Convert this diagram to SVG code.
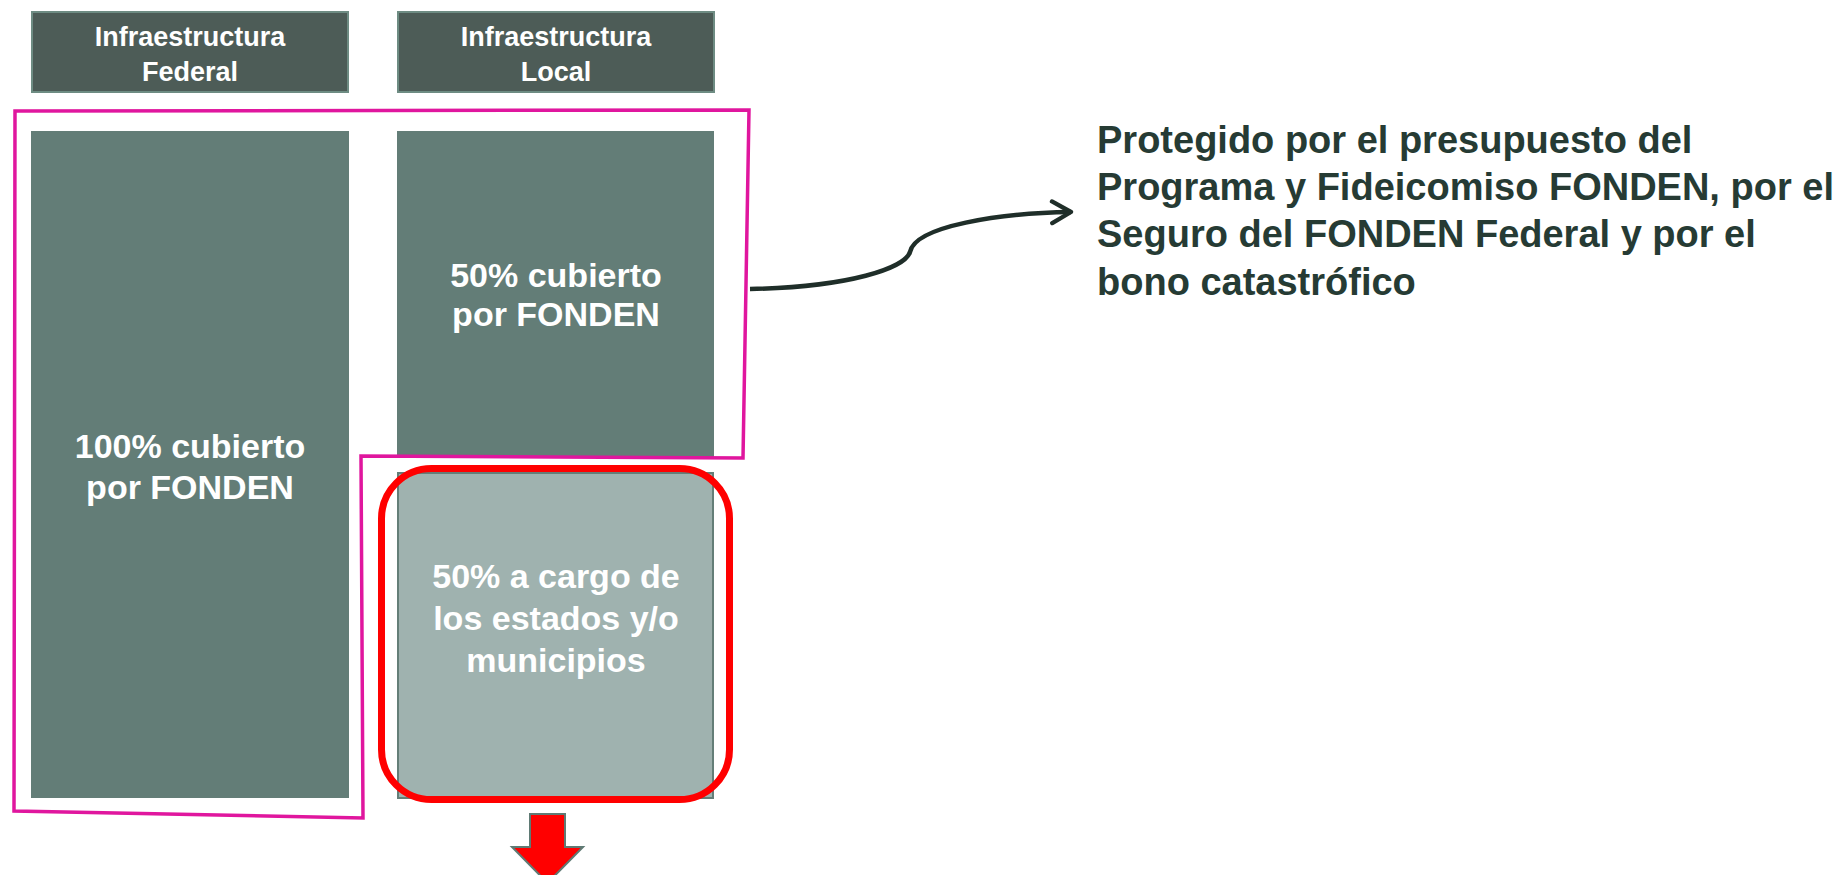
<svg xmlns="http://www.w3.org/2000/svg" width="1839" height="875" viewBox="0 0 1839 875">
<style>
.hdr{fill:#4d5c57;stroke:#6e8c83;stroke-width:2}
.dark{fill:#637d77}
.light{fill:#9fb2af;stroke:#647e78;stroke-width:2}
.t{font-family:"Liberation Sans",Arial,sans-serif;font-weight:bold;fill:#ffffff;text-anchor:middle}
.ht{font-size:27px}
.bt{font-size:34px}
.rt{font-family:"Liberation Sans",Arial,sans-serif;font-weight:bold;font-size:38px;fill:#263b34}
</style>
<defs>
<marker id="chev" viewBox="0 0 10 10" refX="8" refY="5" markerWidth="6" markerHeight="6" markerUnits="strokeWidth" orient="auto">
<path d="M1,1 L8,5 L1,9" fill="none" stroke="#1f2e29" stroke-width="1.6" stroke-linecap="round" stroke-linejoin="round"/>
</marker>
</defs>
<rect width="1839" height="875" fill="#ffffff"/>
<g id="hdr-federal">
<rect class="hdr" x="32" y="12" width="316" height="80"/>
<text class="t ht" x="190" y="46">Infraestructura</text>
<text class="t ht" x="190" y="81">Federal</text>
</g>
<g id="hdr-local">
<rect class="hdr" x="398" y="12" width="316" height="80"/>
<text class="t ht" x="556" y="46">Infraestructura</text>
<text class="t ht" x="556" y="81">Local</text>
</g>
<g id="federal">
<rect class="dark" x="31" y="131" width="318" height="667"/>
<text class="t bt" x="190" y="458">100% cubierto</text>
<text class="t bt" x="190" y="499">por FONDEN</text>
</g>
<g id="local-top">
<rect class="dark" x="397" y="131" width="317" height="327"/>
<text class="t bt" x="556" y="287">50% cubierto</text>
<text class="t bt" x="556" y="326">por FONDEN</text>
</g>
<g id="local-bottom">
<rect class="light" x="398" y="473" width="315" height="325"/>
<text class="t bt" x="556" y="588">50% a cargo de</text>
<text class="t bt" x="556" y="630">los estados y/o</text>
<text class="t bt" x="556" y="672">municipios</text>
</g>
<g id="protected-outline">
<path d="M15,111 L749,110 L743,458 L361,456 L363,818 L14,811 Z" fill="none" stroke="#e0169e" stroke-width="3.5" stroke-linejoin="miter"/>
</g>
<g id="state-highlight">
<rect x="381.5" y="468.5" width="348" height="331" rx="50" ry="50" fill="none" stroke="#ff0000" stroke-width="7"/>
</g>
<g id="down-arrow">
<path d="M530,814 L565,814 L565,847 L583,847 L547.5,883 L512,847 L530,847 Z" fill="#ff0000" stroke="#5f7a74" stroke-width="2"/>
</g>
<g id="connectors">
<path d="M750,289 C850,287 905,268 910,252 C915,226 1000,213 1071,212" fill="none" stroke="#1f2e29" stroke-width="4.5" marker-end="url(#chev)"/>
</g>
<g id="note">
<text class="rt" x="1097" y="153">Protegido por el presupuesto del</text>
<text class="rt" x="1097" y="200">Programa y Fideicomiso FONDEN, por el</text>
<text class="rt" x="1097" y="247">Seguro del FONDEN Federal y por el</text>
<text class="rt" x="1097" y="295">bono catastrófico</text>
</g>
</svg>
